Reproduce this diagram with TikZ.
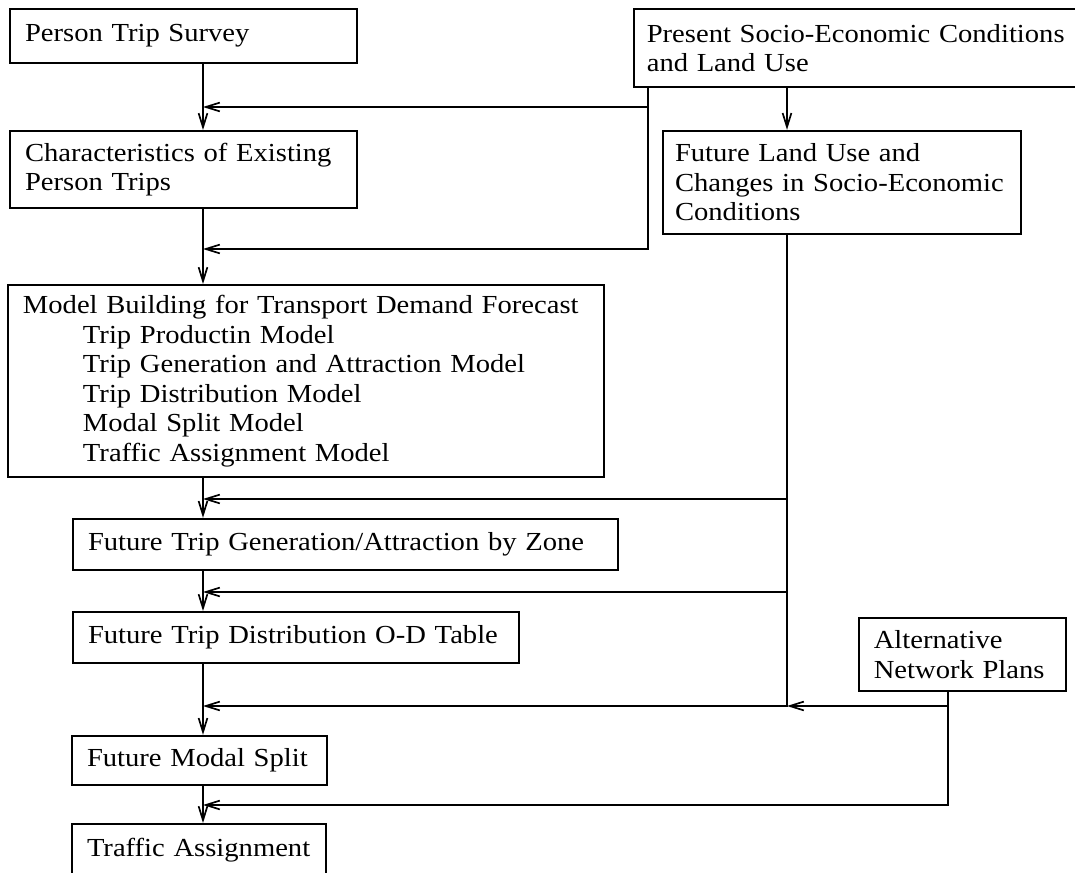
\documentclass[tikz,border=0pt]{standalone}
\usepackage{fontspec}
\setmainfont{Liberation Serif}[FakeStretch=1.1]
\usetikzlibrary{arrows.meta}
\hyphenpenalty=10000
\tikzset{
	diagram/.style={font=\fontsize{18.5pt}{21pt}\selectfont, >={Straight Barb[length=3.5mm,width=2.2mm]}},
	blok/.style={draw, line width=1.4pt, fill=white, align=left, inner xsep=3.75mm, inner ysep=0pt},
	tok/.style={->, line width=1.2pt},
}

\begin{document}
\begin{tikzpicture}[diagram]
\useasboundingbox (0,0) rectangle (26.875,-21.825);
\clip (0,0) rectangle (26.875,-21.825);

% ---------- bloki ----------
\node[blok, text width=79.3mm, minimum height=13.5mm] (anketa) at (4.59,-0.90) {Person Trip Survey};
\node[blok, text width=79.3mm, minimum height=19.3mm] (znacilnosti) at (4.59,-4.24)
    {Characteristics of Existing\\ Person Trips};

\node[blok, inner xsep=3.25mm, text width=112mm, minimum height=19.5mm] (stanje) at (21.77,-1.20)
    {Present Socio-Economic Conditions\\ and Land Use};
\node[blok, inner xsep=3mm, text width=83.5mm, minimum height=25.8mm] (raba) at (21.05,-4.56)
    {Future Land Use and\\ Changes in Socio-Economic\\ Conditions};

\node[blok, text width=141.5mm, minimum height=48mm] (modeli) at (7.65,-9.525)
    {Model Building for Transport Demand Forecast\\
     \hspace*{15mm}Trip Productin Model\\
     \hspace*{15mm}Trip Generation and Attraction Model\\
     \hspace*{15mm}Trip Distribution Model\\
     \hspace*{15mm}Modal Split Model\\
     \hspace*{15mm}Traffic Assignment Model};

\node[blok, text width=128.8mm, minimum height=12.8mm] (nastajanje) at (8.64,-13.61)
    {Future Trip Generation/Attraction by Zone};
\node[blok, text width=104mm, minimum height=12.8mm] (matrika) at (7.40,-15.94)
    {Future Trip Distribution O-D Table};
\node[blok, text width=56.3mm, minimum height=12.3mm] (delitev) at (4.99,-19.01) {Future Modal Split};
\node[blok, text width=56mm, minimum height=13mm] (obremenitev) at (4.975,-21.25) {Traffic Assignment};

\node[blok, text width=44.3mm, minimum height=18.3mm] (omrezja) at (24.06,-16.36)
    {Alternative\\ Network Plans};

% ---------- stolpci in vozlišča ----------
\coordinate (hrbet) at (5.075,0);
\coordinate (veja) at (16.2,0);
\coordinate (stolpec) at (19.675,0);
\coordinate (desno) at (23.7,0);

\coordinate (s1) at (5.075,-2.675);
\coordinate (s2) at (5.075,-6.225);
\coordinate (s3) at (5.075,-12.475);
\coordinate (s4) at (5.075,-14.8);
\coordinate (s5) at (5.075,-17.65);
\coordinate (s6) at (5.075,-20.125);

% ---------- povezave ----------
\draw[tok] (anketa.south -| hrbet) -- (znacilnosti.north -| hrbet);
\draw[tok] (znacilnosti.south -| hrbet) -- (modeli.north -| hrbet);
\draw[tok] (modeli.south -| hrbet) -- (nastajanje.north -| hrbet);
\draw[tok] (nastajanje.south -| hrbet) -- (matrika.north -| hrbet);
\draw[tok] (matrika.south -| hrbet) -- (delitev.north -| hrbet);
\draw[tok] (delitev.south -| hrbet) -- (obremenitev.north -| hrbet);

\draw[tok] (stanje.south -| veja) |- (s1);
\draw[tok] (stanje.south -| veja) |- (s2);
\draw[tok] (stanje.south -| stolpec) -- (raba.north -| stolpec);

\draw[tok] (raba.south -| stolpec) |- (s3);
\draw[tok] (raba.south -| stolpec) |- (s4);
\draw[tok] (raba.south -| stolpec) |- (s5);

\draw[tok] (omrezja.south -| desno) |- (s5 -| stolpec);
\draw[tok] (omrezja.south -| desno) |- (s6);

\end{tikzpicture}
\end{document}
